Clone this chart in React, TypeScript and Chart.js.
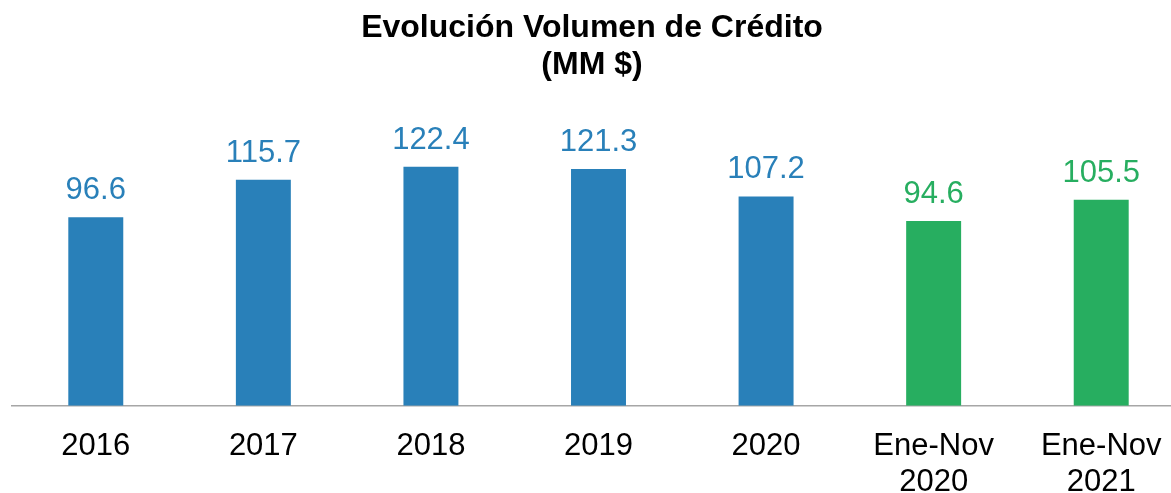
import React, { useEffect, useRef } from "react";
import { Chart, registerables } from "chart.js";

Chart.register(...registerables);

const titleLines = ["Evolución Volumen de Crédito", "(MM $)"];
const categories: (string | string[])[] = [
  "2016",
  "2017",
  "2018",
  "2019",
  "2020",
  ["Ene-Nov", "2020"],
  ["Ene-Nov", "2021"],
];
const creditVolume = [96.6, 115.7, 122.4, 121.3, 107.2, 94.6, 105.5];
const partialPeriod = [false, false, false, false, false, true, true];

const BLUE = "#2980b9";
const GREEN = "#27ae60";
const FONT = "'Liberation Sans', Arial, Helvetica, sans-serif";

const valueLabelPlugin = {
  id: "valueLabels",
  afterDatasetsDraw(chart: any) {
    const ctx = chart.ctx;
    const meta = chart.getDatasetMeta(0);
    const ds = chart.data.datasets[0];
    ctx.save();
    ctx.font = `31px ${FONT}`;
    ctx.textAlign = "center";
    ctx.textBaseline = "alphabetic";
    meta.data.forEach((bar: any, i: number) => {
      const v = ds.data[i] as number;
      ctx.fillStyle = (ds.backgroundColor as string[])[i];
      ctx.fillText(v.toFixed(1), bar.x, bar.y - 18);
    });
    ctx.restore();
  },
};

const titlePlugin = {
  id: "customTitle",
  afterDraw(chart: any) {
    const ctx = chart.ctx;
    ctx.save();
    ctx.font = `bold 32px ${FONT}`;
    ctx.fillStyle = "#000000";
    ctx.textAlign = "center";
    ctx.textBaseline = "alphabetic";
    ctx.fillText(titleLines[0], 592, 37);
    ctx.fillText(titleLines[1], 592, 73.5);
    ctx.restore();
  },
};

export default function App() {
  const canvasRef = useRef<HTMLCanvasElement | null>(null);

  useEffect(() => {
    if (!canvasRef.current) return;
    const colors = partialPeriod.map((p) => (p ? GREEN : BLUE));
    const chart = new Chart(canvasRef.current, {
      type: "bar",
      data: {
        labels: categories,
        datasets: [
          {
            data: creditVolume,
            backgroundColor: colors,
            borderWidth: 0,
            barPercentage: 0.328,
            categoryPercentage: 1,
          },
        ],
      },
      options: {
        animation: false,
        responsive: true,
        maintainAspectRatio: false,
        layout: { padding: { left: 12, right: 0, top: 100, bottom: 0 } },
        plugins: {
          legend: { display: false },
          title: { display: false },
          tooltip: { enabled: false },
        },
        scales: {
          x: {
            grid: { display: false },
            border: { display: true, color: "#a6a6a6", width: 1.5 },
            ticks: {
              color: "#000000",
              font: { family: FONT, size: 31, lineHeight: 1.18 },
              padding: 14,
              maxRotation: 0,
              autoSkip: false,
            },
            afterFit: (scale: any) => {
              scale.height = 87.3;
            },
          },
          y: {
            display: false,
            min: 0,
            max: 156.6,
          },
        },
      },
      plugins: [valueLabelPlugin, titlePlugin],
    });
    return () => chart.destroy();
  }, []);

  return (
    <div
      style={{
        position: "fixed",
        left: 0,
        top: 0,
        width: 1171,
        height: 493,
        overflow: "hidden",
        background: "#ffffff",
      }}
    >
      <div style={{ position: "relative", width: 1185, height: 493 }}>
        <canvas ref={canvasRef} />
      </div>
    </div>
  );
}
